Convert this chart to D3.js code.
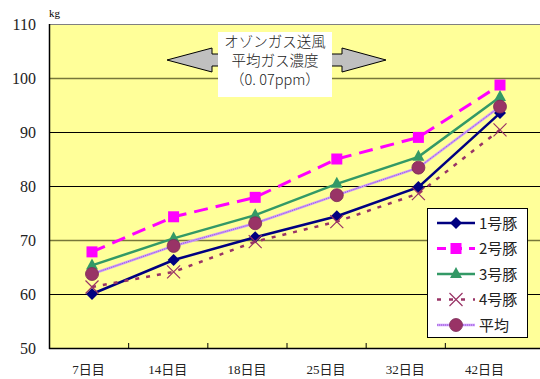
<!DOCTYPE html>
<html>
<head>
<meta charset="utf-8">
<script src="https://cdn.jsdelivr.net/npm/d3@7"></script>
<style>
  body { margin: 0; background: #fff; }
  svg { display: block; }
</style>
</head>
<body>
<svg id="chart" width="540" height="379"></svg>
<script>
// categories and series (kg)
const days = ['7日目', '14日目', '18日目', '25日目', '32日目', '42日目'];
const pig1 = [60.0, 66.3, 70.5, 74.4, 79.8, 93.5];
const pig2 = [67.8, 74.3, 77.9, 85.0, 89.0, 98.7];
const pig3 = [65.3, 70.3, 74.6, 80.4, 85.4, 96.5];
const pig4 = [61.3, 64.1, 69.7, 73.4, 78.6, 90.4];
const avg  = [63.7, 68.9, 73.1, 78.3, 83.4, 94.7];
const yTicks = [50, 60, 70, 80, 90, 100, 110];
const noteLines = ['オゾンガス送風', '平均ガス濃度', '（0. 07ppm）'];

const series = [
  { name: '1号豚', values: pig1, color: '#000080', dash: null, width: 2.5, marker: 'diamond' },
  { name: '2号豚', values: pig2, color: '#ff00ff', dash: '14,8', width: 3, marker: 'square' },
  { name: '3号豚', values: pig3, color: '#339966', dash: null, width: 2.5, marker: 'triangle' },
  { name: '4号豚', values: pig4, color: '#993366', dash: '4,7', width: 2.5, marker: 'cross' },
  { name: '平均', values: avg, color: '#cc99ff', dash: null, width: 2.5, marker: 'circle' }
];

const svg = d3.select('#chart');
const plotLeft = 49, plotRight = 540, plotTop = 24, plotBottom = 348;

const y = d3.scaleLinear().domain([50, 110]).range([plotBottom, plotTop]);
const xBand = d3.scaleBand().domain(days).range([plotLeft, 524]);
const x = d3.scalePoint().domain(days).range([92, 500]);

const serif = '"Liberation Serif", "Noto Sans CJK JP", serif';
const gothic = '"Noto Sans CJK JP", sans-serif';

// plot area
svg.append('rect')
  .attr('x', plotLeft).attr('y', plotTop)
  .attr('width', plotRight - plotLeft).attr('height', plotBottom - plotTop)
  .attr('fill', '#ffff99');

svg.append('g')
  .selectAll('line')
  .data(yTicks.filter(d => d > 50 && d < 110))
  .join('line')
  .attr('x1', plotLeft).attr('x2', plotRight)
  .attr('y1', d => y(d) + 0.5).attr('y2', d => y(d) + 0.5)
  .attr('stroke', d => (d === 100 || d === 70) ? '#77773a' : '#000')
  .attr('stroke-width', d => (d === 100 || d === 70) ? 1.6 : 1);

svg.append('line')
  .attr('x1', plotLeft).attr('x2', plotRight)
  .attr('y1', plotTop + 0.5).attr('y2', plotTop + 0.5)
  .attr('stroke', '#808080');

// axes
svg.append('line')
  .attr('x1', plotLeft + 0.5).attr('x2', plotLeft + 0.5)
  .attr('y1', plotTop).attr('y2', plotBottom + 1)
  .attr('stroke', '#000').attr('stroke-width', 1.5);
svg.append('line')
  .attr('x1', plotLeft).attr('x2', plotRight)
  .attr('y1', plotBottom + 0.5).attr('y2', plotBottom + 0.5)
  .attr('stroke', '#000').attr('stroke-width', 1.5);

svg.append('g')
  .selectAll('line')
  .data(days.slice(1))
  .join('line')
  .attr('x1', d => xBand(d) + 0.5).attr('x2', d => xBand(d) + 0.5)
  .attr('y1', plotBottom - 5).attr('y2', plotBottom)
  .attr('stroke', '#000');

svg.append('g')
  .selectAll('text')
  .data(yTicks)
  .join('text')
  .attr('x', 36)
  .attr('y', d => y(d) + 6)
  .attr('text-anchor', 'end')
  .attr('font-family', serif)
  .attr('font-size', 16)
  .attr('fill', '#222')
  .text(d => d);

svg.append('text')
  .attr('x', 49).attr('y', 17)
  .attr('font-family', serif).attr('font-size', 11)
  .text('kg');

svg.append('g')
  .selectAll('text')
  .data(days)
  .join('text')
  .attr('x', d => xBand(d) + xBand.bandwidth() / 2)
  .attr('y', 374)
  .attr('text-anchor', 'middle')
  .attr('font-family', serif)
  .attr('font-size', 13)
  .attr('fill', '#222')
  .text(d => d);

// annotation: double arrow behind a text box
const arrow = d3.path();
arrow.moveTo(167, 60);
arrow.lineTo(212, 48);
arrow.lineTo(212, 54);
arrow.lineTo(342, 54);
arrow.lineTo(342, 48);
arrow.lineTo(386, 60);
arrow.lineTo(342, 72);
arrow.lineTo(342, 66);
arrow.lineTo(212, 66);
arrow.lineTo(212, 72);
arrow.closePath();
svg.append('path')
  .attr('d', arrow.toString())
  .attr('fill', '#c0c0c0')
  .attr('stroke', '#000')
  .attr('stroke-width', 1);

svg.append('rect')
  .attr('x', 218).attr('y', 32)
  .attr('width', 114).attr('height', 65)
  .attr('fill', '#fff');

svg.append('g')
  .selectAll('text')
  .data(noteLines)
  .join('text')
  .attr('x', 275)
  .attr('y', (d, i) => 47 + i * 19)
  .attr('text-anchor', 'middle')
  .attr('font-family', gothic)
  .attr('font-weight', 300)
  .attr('font-size', 14.5)
  .attr('fill', '#222')
  .text(d => d);

// markers
function drawMarker(g, type, cx, cy) {
  if (type === 'diamond') {
    g.append('path')
      .attr('d', `M${cx},${cy - 6}L${cx + 6},${cy}L${cx},${cy + 6}L${cx - 6},${cy}Z`)
      .attr('fill', '#000080');
  } else if (type === 'square') {
    g.append('rect')
      .attr('x', cx - 5.5).attr('y', cy - 5.5)
      .attr('width', 11).attr('height', 11)
      .attr('fill', '#ff00ff');
  } else if (type === 'triangle') {
    g.append('path')
      .attr('d', `M${cx},${cy - 7}L${cx + 6},${cy + 4}L${cx - 6},${cy + 4}Z`)
      .attr('fill', '#339966');
  } else if (type === 'cross') {
    g.append('path')
      .attr('d', `M${cx - 6.5},${cy - 6.5}L${cx + 6.5},${cy + 6.5}M${cx + 6.5},${cy - 6.5}L${cx - 6.5},${cy + 6.5}`)
      .attr('stroke', '#993366').attr('stroke-width', 1.2)
      .attr('fill', 'none');
  } else if (type === 'circle') {
    g.append('circle')
      .attr('cx', cx).attr('cy', cy).attr('r', 6.5)
      .attr('fill', '#993366')
      .attr('stroke', '#7a2a55').attr('stroke-width', 0.8);
  }
}

const line = d3.line()
  .x((d, i) => x(days[i]))
  .y(d => y(d));

series.forEach(s => {
  const g = svg.append('g');
  g.append('path')
    .attr('d', line(s.values))
    .attr('fill', 'none')
    .attr('stroke', s.color)
    .attr('stroke-width', s.width)
    .attr('stroke-dasharray', s.dash);
  if (s.marker === 'circle') {
    g.append('path')
      .attr('d', line(s.values))
      .attr('fill', 'none')
      .attr('stroke', '#8a4fb8')
      .attr('stroke-width', 0.8)
      .attr('stroke-dasharray', '1,1');
  }
  s.values.forEach((v, i) => drawMarker(g, s.marker, x(days[i]), y(v)));
});

// legend
const lg = svg.append('g');
lg.append('rect')
  .attr('x', 427.5).attr('y', 208.5)
  .attr('width', 100).attr('height', 129)
  .attr('fill', '#fff')
  .attr('stroke', '#000').attr('stroke-width', 1);

series.forEach((s, i) => {
  const cy = 223 + i * 25.5;
  lg.append('line')
    .attr('x1', 437).attr('x2', 475)
    .attr('y1', cy).attr('y2', cy)
    .attr('stroke', s.color)
    .attr('stroke-width', s.width)
    .attr('stroke-dasharray', s.dash ? (s.marker === 'square' ? '9,7' : '4,8') : null);
  if (s.marker === 'circle') {
    lg.append('line')
      .attr('x1', 437).attr('x2', 475)
      .attr('y1', cy).attr('y2', cy)
      .attr('stroke', '#8a4fb8').attr('stroke-width', 0.8)
      .attr('stroke-dasharray', '1,1');
  }
  drawMarker(lg, s.marker, 456, cy);
  lg.append('text')
    .attr('x', 479).attr('y', cy + 5.5)
    .attr('font-family', gothic)
    .attr('font-size', 15)
    .attr('fill', '#222')
    .text(s.name);
});
</script>
</body>
</html>
